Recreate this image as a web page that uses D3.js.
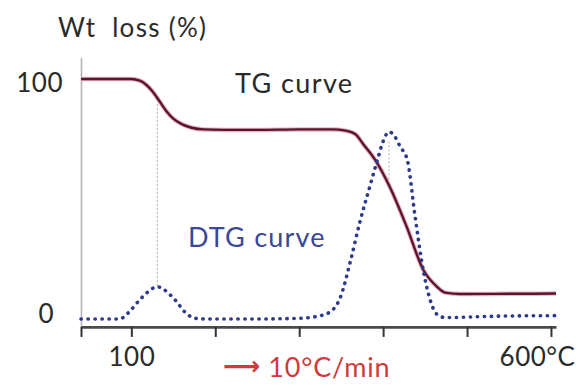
<!DOCTYPE html>
<html>
<head>
<meta charset="utf-8">
<script src="https://cdn.jsdelivr.net/npm/d3@7"></script>
<style>
  body { margin: 0; background: #fff; }
  text { font-family: Lato, "Open Sans", sans-serif; }
</style>
</head>
<body>
<div id="chart"></div>
<script>
// TG curve: temperature (°C) vs remaining weight (%)
const tgTemp = [40, 100, 110, 118, 126, 134, 142, 150, 160, 172, 186, 210, 250, 300, 340, 355, 367, 376, 392, 408, 428, 448, 464, 474, 492, 550, 606];
const tgWeight = [100, 100, 99.3, 97.5, 94.5, 90.5, 86.5, 83.5, 81.2, 79.7, 79, 78.8, 78.8, 79, 79, 78.5, 77, 73, 65.5, 55, 38.5, 20.4, 13.5, 11, 10.4, 10.5, 10.6];

// DTG curve: temperature (°C) vs rate (scaled to same axis)
const dtgTemp = [40, 86, 96, 110, 118, 124, 131, 138, 144, 152, 165, 176, 190, 250, 300, 320, 337, 349, 361, 372, 384, 393, 400, 407, 414, 420, 429, 438, 448, 456, 464, 474, 540, 606];
const dtgRate = [0, 0, 2.5, 8, 10.8, 12.5, 13.4, 12.5, 10.8, 8, 2.5, 0.3, 0, 0, 0.3, 1, 3, 9, 24, 40, 55, 66, 74, 78, 76, 72, 66, 43, 20, 8, 2, 0.6, 1.2, 1.4];

// peak temperatures marked with drop lines
const peakTemps = [131, 407];

const xTicks = [40, 100, 200, 300, 400, 500, 600];
const yTicks = [0, 100];

const width = 576, height = 386;

const x = d3.scaleLinear().domain([40, 606]).range([81, 556]);
const y = d3.scaleLinear().domain([0, 100]).range([319, 79]);

const svg = d3.select("#chart").append("svg")
    .attr("width", width)
    .attr("height", height)
    .attr("viewBox", `0 0 ${width} ${height}`);

svg.append("rect").attr("width", width).attr("height", height).attr("fill", "#fff");

const interp = (xs, ys, t) => {
  const i = Math.max(1, Math.min(xs.length - 1, d3.bisectLeft(xs, t)));
  const f = (t - xs[i - 1]) / (xs[i] - xs[i - 1]);
  return ys[i - 1] + f * (ys[i] - ys[i - 1]);
};

// y axis (light line, extends above 100)
const yAx = d3.scaleLinear().domain([-3.3, 109]).range([y(-3.3), y(109)]);
const yAxisG = svg.append("g")
    .attr("transform", `translate(${x(40)},0)`)
    .call(d3.axisLeft(yAx).tickValues(yTicks).tickSize(0).tickPadding(18).tickFormat(d3.format("d")));
yAxisG.select(".domain").attr("stroke", "#b4b4b4").attr("stroke-width", 1.6);
yAxisG.selectAll(".tick text")
    .attr("font-size", 26)
    .attr("fill", "#2a2a2a")
    .attr("letter-spacing", 0.5)
    .attr("dx", d => d === 0 ? -9 : 0)
    .attr("dy", d => d === 0 ? "0.12em" : "0.47em");

// drop lines from peaks
svg.append("g").selectAll("line")
  .data(peakTemps)
  .join("line")
    .attr("x1", d => x(d))
    .attr("x2", d => x(d))
    .attr("y1", d => y(interp(tgTemp, tgWeight, d)) + (d > 300 ? -6 : 2))
    .attr("y2", d => y(interp(dtgTemp, dtgRate, d)) + (d > 300 ? 10 : 0))
    .attr("stroke", "#a8a8b4")
    .attr("stroke-width", 1)
    .attr("stroke-dasharray", "2,2");

// TG curve
const tgData = tgTemp.map((t, i) => ({t, v: tgWeight[i]}));
const tgLine = d3.line().x(d => x(d.t)).y(d => y(d.v)).curve(d3.curveMonotoneX);

svg.append("path")
    .datum(tgData)
    .attr("fill", "none")
    .attr("stroke", "#e9b3c2")
    .attr("stroke-width", 4.5)
    .attr("d", tgLine);
svg.append("path")
    .datum(tgData)
    .attr("fill", "none")
    .attr("stroke", "#5a1630")
    .attr("stroke-width", 2.4)
    .attr("stroke-linejoin", "round")
    .attr("d", tgLine);

// DTG curve (dotted)
const dtgData = dtgTemp.map((t, i) => ({t, v: dtgRate[i]}));
const dtgLine = d3.line().x(d => x(d.t)).y(d => y(d.v)).curve(d3.curveMonotoneX);

svg.append("path")
    .datum(dtgData)
    .attr("fill", "none")
    .attr("stroke", "#2c3a8a")
    .attr("stroke-width", 3.6)
    .attr("stroke-linecap", "round")
    .attr("stroke-dasharray", "0.3,6.7")
    .attr("d", dtgLine);

// x axis
const xAxisG = svg.append("g")
    .attr("transform", `translate(0,${y(-3.3)})`)
    .call(d3.axisBottom(x).tickValues(xTicks).tickSize(10).tickSizeOuter(0).tickPadding(11)
      .tickFormat(d => d === 100 ? "100" : d === 600 ? "600°C" : ""));
xAxisG.select(".domain").attr("stroke", "#4a4a4a").attr("stroke-width", 2.6);
xAxisG.selectAll(".tick line").attr("stroke", "#333").attr("stroke-width", 2);
xAxisG.selectAll(".tick text")
    .attr("font-size", 26)
    .attr("fill", "#2a2a2a")
    .attr("letter-spacing", 0.5)
    .attr("text-anchor", d => d === 600 ? "end" : "middle")
    .attr("dx", d => d === 600 ? 24 : 0);

// labels
svg.append("text")
    .attr("x", 58).attr("y", 37)
    .attr("font-size", 26)
    .attr("letter-spacing", 1.3)
    .attr("fill", "#2a2a2a")
    .attr("xml:space", "preserve")
    .text("Wt  loss (%)");

svg.append("text")
    .attr("x", 235).attr("y", 93)
    .attr("font-size", 27)
    .attr("letter-spacing", 1.4)
    .attr("fill", "#2a2a2a")
    .text("TG curve");

svg.append("text")
    .attr("x", 188).attr("y", 247)
    .attr("font-size", 27)
    .attr("letter-spacing", 1.2)
    .attr("fill", "#3a4896")
    .text("DTG curve");

const rate = svg.append("text")
    .attr("x", 223).attr("y", 377)
    .attr("fill", "#d23a3a");
rate.append("tspan")
    .attr("font-family", "DejaVu Sans")
    .attr("font-size", 26)
    .attr("font-weight", "bold")
    .attr("dy", -2)
    .text("⟶");
rate.append("tspan")
    .attr("font-size", 27)
    .attr("letter-spacing", 0.8)
    .attr("dx", 8)
    .attr("dy", 2)
    .text("10°C/min");
</script>
</body>
</html>
